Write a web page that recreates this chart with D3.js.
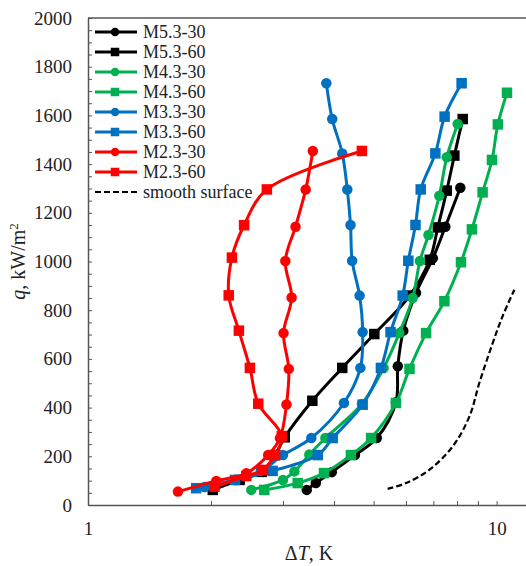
<!DOCTYPE html>
<html>
<head>
<meta charset="utf-8">
<script src="https://cdn.jsdelivr.net/npm/d3@7/dist/d3.min.js"></script>
<style>
  body { margin: 0; background: #fff; }
  svg text { font-family: "Liberation Serif", "Times New Roman", serif; fill: #222; }
</style>
</head>
<body>
<div id="chart"></div>
<script>
// values: wall superheat dT (K) and heat flux q (kW/m2)
const m53_30_dT = [3.43, 3.61, 3.95, 4.50, 5.09, 5.67, 5.73, 5.91, 6.35, 6.98, 7.49, 8.15];
const m53_30_q  = [62, 90, 135, 205, 275, 422, 570, 716, 871, 1013, 1143, 1303];

const m53_60_dT = [2.02, 2.35, 2.66, 2.87, 3.03, 3.54, 4.19, 5.02, 6.13, 6.86, 7.18, 7.55, 7.88, 8.26];
const m53_60_q  = [62, 103, 136, 205, 278, 428, 563, 702, 860, 1007, 1140, 1291, 1435, 1585];

const m43_30_dT = [2.51, 3.00, 3.20, 3.48, 3.81, 4.68, 5.29, 5.78, 6.23, 6.49, 6.81, 7.24, 7.55, 8.03];
const m43_30_q  = [62, 103, 138, 207, 275, 415, 563, 706, 850, 1002, 1109, 1270, 1428, 1565];

const m43_60_dT = [2.70, 3.26, 3.78, 4.40, 4.93, 5.67, 6.12, 6.72, 7.45, 8.18, 8.70, 9.24, 9.74, 10.07, 10.60];
const m43_60_q  = [62, 90, 131, 205, 275, 419, 559, 706, 837, 997, 1132, 1284, 1417, 1563, 1693];

const m33_30_dT = [1.93, 2.29, 2.65, 3.00, 3.52, 4.23, 4.64, 4.70, 4.62, 4.43, 4.39, 4.31, 4.19, 3.96, 3.83];
const m33_30_q  = [74, 103, 140, 205, 275, 419, 563, 710, 860, 1003, 1150, 1296, 1444, 1585, 1732];

const m33_60_dT = [1.84, 2.29, 2.83, 3.65, 3.97, 4.70, 5.21, 5.50, 5.89, 6.08, 6.33, 6.52, 7.08, 7.46, 8.21];
const m33_60_q  = [69, 103, 140, 205, 275, 412, 563, 710, 860, 1003, 1150, 1296, 1444, 1595, 1732];

const m23_30_dT = [1.66, 2.06, 2.44, 2.76, 2.95, 3.06, 3.10, 3.01, 3.15, 3.04, 3.22, 3.41, 3.55];
const m23_30_q  = [55, 99, 130, 205, 274, 413, 559, 706, 852, 1002, 1143, 1296, 1454];

const m23_60_dT = [2.04, 2.44, 2.68, 2.87, 2.98, 2.61, 2.49, 2.34, 2.21, 2.25, 2.41, 2.74, 4.68];
const m23_60_q  = [75, 119, 144, 205, 283, 416, 563, 716, 861, 1016, 1149, 1296, 1454];

const smooth_dT = [5.41, 6.00, 6.85, 7.81, 8.58, 9.07, 9.78, 10.34, 11.05];
const smooth_q  = [66, 90, 145, 241, 364, 501, 665, 775, 884];

const seriesNames = ["M5.3-30", "M5.3-60", "M4.3-30", "M4.3-60", "M3.3-30", "M3.3-60", "M2.3-30", "M2.3-60"];
const seriesColors = ["#000000", "#000000", "#00b050", "#00b050", "#0070c0", "#0070c0", "#ff0000", "#ff0000"];
const seriesMarkers = ["circle", "square", "circle", "square", "circle", "square", "circle", "square"];
const seriesDT = [m53_30_dT, m53_60_dT, m43_30_dT, m43_60_dT, m33_30_dT, m33_60_dT, m23_30_dT, m23_60_dT];
const seriesQ = [m53_30_q, m53_60_q, m43_30_q, m43_60_q, m33_30_q, m33_60_q, m23_30_q, m23_60_q];

const yTicks = d3.range(0, 2001, 50);
const xTicks = [1, 2, 3, 4, 5, 6, 7, 8, 9, 10];
const xLabels = [1, 10];

const width = 526, height = 566;
const margin = {top: 18, bottom: 61, left: 88, right: 0};
const innerH = height - margin.top - margin.bottom;

const svg = d3.select("#chart").append("svg")
  .attr("width", width)
  .attr("height", height);

// the right edge of the plot is cut off by the picture
const x = d3.scaleLog().domain([1, 11.8]).range([margin.left, width]);
const y = d3.scaleLinear().domain([0, 2000]).range([height - margin.bottom, margin.top]);

svg.append("defs").append("clipPath").attr("id", "plot")
  .append("rect")
  .attr("x", margin.left).attr("y", margin.top - 8)
  .attr("width", width - margin.left).attr("height", innerH + 8);

// axes, ticks point inward
const gx = svg.append("g")
  .attr("transform", `translate(0,${height - margin.bottom})`)
  .call(d3.axisBottom(x).tickValues(xTicks).tickSize(-4).tickSizeOuter(0).tickPadding(17)
    .tickFormat(d => xLabels.includes(d) ? d : ""));

const gy = svg.append("g")
  .attr("transform", `translate(${margin.left},0)`)
  .call(d3.axisLeft(y).tickValues(yTicks).tickSize(-4).tickSizeOuter(0).tickPadding(16)
    .tickFormat(d => d % 200 === 0 ? d : ""));

[gx, gy].forEach(g => {
  g.select(".domain").attr("stroke", "#555").attr("stroke-width", 1.5);
  g.selectAll(".tick line").attr("stroke", "#555");
  g.selectAll(".tick text").attr("font-size", 19).attr("fill", "#222")
    .attr("font-family", "Liberation Serif, serif");
});

// top frame line
svg.append("line")
  .attr("x1", margin.left).attr("x2", width)
  .attr("y1", margin.top).attr("y2", margin.top)
  .attr("stroke", "#555").attr("stroke-width", 1.5);

// axis titles
const xTitle = svg.append("text")
  .attr("x", 309).attr("y", 560)
  .attr("text-anchor", "middle")
  .attr("font-size", 20);
xTitle.append("tspan").text("\u0394");
xTitle.append("tspan").attr("font-style", "italic").text("T");
xTitle.append("tspan").text(", K");

const yTitle = svg.append("text")
  .attr("transform", `translate(25,${(margin.top + height - margin.bottom) / 2}) rotate(-90)`)
  .attr("text-anchor", "middle")
  .attr("font-size", 20);
yTitle.append("tspan").attr("font-style", "italic").text("q");
yTitle.append("tspan").text(", kW/m");
yTitle.append("tspan").attr("font-size", 13).attr("dy", -7).text("2");

// series
const line = d3.line()
  .x(d => x(d[0]))
  .y(d => y(d[1]))
  .curve(d3.curveCatmullRom.alpha(0.5));

const plot = svg.append("g").attr("clip-path", "url(#plot)");

function drawMarker(g, kind, cx, cy, size, color) {
  if (kind === "circle") {
    g.append("circle").attr("cx", cx).attr("cy", cy).attr("r", size / 2).attr("fill", color);
  } else {
    g.append("rect").attr("x", cx - size / 2).attr("y", cy - size / 2)
      .attr("width", size).attr("height", size).attr("fill", color);
  }
}

seriesNames.forEach((name, i) => {
  const pts = d3.zip(seriesDT[i], seriesQ[i]);
  const g = plot.append("g");
  g.append("path")
    .attr("d", line(pts))
    .attr("fill", "none")
    .attr("stroke", seriesColors[i])
    .attr("stroke-width", 3);
  pts.forEach(p => drawMarker(g, seriesMarkers[i], x(p[0]), y(p[1]), 10.5, seriesColors[i]));
});

plot.append("path")
  .attr("d", line(d3.zip(smooth_dT, smooth_q)))
  .attr("fill", "none")
  .attr("stroke", "#000")
  .attr("stroke-width", 2.2)
  .attr("stroke-dasharray", "6,3");

// legend
const legend = svg.append("g").attr("transform", "translate(95,32)");
seriesNames.forEach((name, i) => {
  const row = legend.append("g").attr("transform", `translate(0,${i * 20})`);
  row.append("line").attr("x1", 0).attr("x2", 42)
    .attr("stroke", seriesColors[i]).attr("stroke-width", 3);
  drawMarker(row, seriesMarkers[i], 20, 0, 8.5, seriesColors[i]);
  row.append("text").attr("x", 48).attr("y", 6).attr("font-size", 18).text(name);
});
const smoothRow = legend.append("g").attr("transform", `translate(0,${8 * 20})`);
smoothRow.append("line").attr("x1", 0).attr("x2", 42)
  .attr("stroke", "#000").attr("stroke-width", 2.2).attr("stroke-dasharray", "6,3");
smoothRow.append("text").attr("x", 48).attr("y", 6).attr("font-size", 18).text("smooth surface");
</script>
</body>
</html>
